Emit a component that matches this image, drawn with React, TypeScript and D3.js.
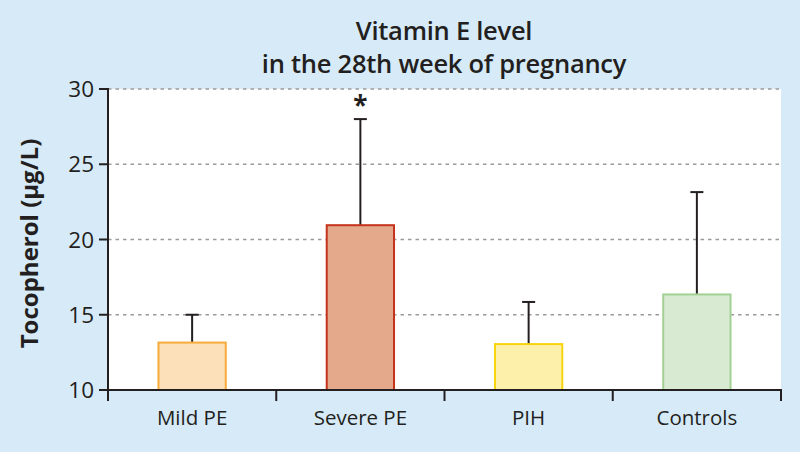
import React from 'react';
import * as d3 from 'd3';

const groups = ['Mild PE', 'Severe PE', 'PIH', 'Controls'];
const means = [13.15, 20.95, 13.05, 16.35];
const sdTops = [15.0, 28.0, 15.85, 23.15];
const significant = [false, true, false, false];
const fills = ['#fce0b9', '#e4a98b', '#fdf0aa', '#d9ead3'];
const strokes = ['#f7ab3a', '#c4331c', '#f7d40c', '#a3d193'];
const yTicks = [10, 15, 20, 25, 30];
const gridTicks = [15, 20, 25, 30];

const W = 800;
const H = 452;
const left = 108;
const right = 781;
const top = 89;
const bottom = 390;

const App = () => {
  const x = d3.scaleBand<string>().domain(groups).range([left, right]).padding(0);
  const y = d3.scaleLinear().domain([10, 30]).range([bottom, top]);
  const barW = x.bandwidth() * 0.4;
  const font = "'Open Sans', 'DejaVu Sans', sans-serif";
  const ink = '#231f20';

  return (
    <svg width={W} height={H} style={{ position: 'absolute', left: 0, top: 0 }} fontFamily={font}>
      <rect x={0} y={0} width={W} height={H} fill="#d6eaf8" />
      <rect x={left} y={top} width={right - left} height={bottom - top} fill="#ffffff" />

      {/* title */}
      <text x={444} y={40} textAnchor="middle" fontSize={25.5} fontWeight={600} fill={ink} letterSpacing={-0.25}>
        Vitamin E level
      </text>
      <text x={444} y={73} textAnchor="middle" fontSize={25.5} fontWeight={600} fill={ink} letterSpacing={-0.25}>
        in the 28th week of pregnancy
      </text>

      {/* gridlines */}
      {gridTicks.map(t => (
        <line key={t} x1={left} x2={right} y1={y(t)} y2={y(t)} stroke="#9a9a9a" strokeWidth={1.5} strokeDasharray="3.5,4" />
      ))}

      {/* bars */}
      {groups.map((g, i) => {
        const cx = (x(g) as number) + x.bandwidth() / 2;
        return (
          <g key={g}>
            <line x1={cx} x2={cx} y1={y(means[i])} y2={y(sdTops[i])} stroke={ink} strokeWidth={2} />
            <line x1={cx - 6.5} x2={cx + 6.5} y1={y(sdTops[i])} y2={y(sdTops[i])} stroke={ink} strokeWidth={2} />
            <rect x={cx - barW / 2} y={y(means[i])} width={barW} height={bottom - y(means[i])}
              fill={fills[i]} stroke={strokes[i]} strokeWidth={2} />
            {significant[i] && (
              <text x={cx} y={y(sdTops[i]) - 4} textAnchor="middle" fontSize={26} fontWeight={700} fill={ink}>*</text>
            )}
            <text x={cx} y={425} textAnchor="middle" fontSize={20.5} fill={ink}>{g}</text>
          </g>
        );
      })}

      {/* x axis */}
      <line x1={left} x2={right + 1} y1={bottom} y2={bottom} stroke={ink} strokeWidth={2} />
      {groups.map(g => (
        <line key={g} x1={x(g)} x2={x(g)} y1={bottom} y2={401} stroke={ink} strokeWidth={2} />
      ))}
      <line x1={right} x2={right} y1={bottom} y2={401} stroke={ink} strokeWidth={2} />

      {/* y axis */}
      <line x1={left} x2={left} y1={top - 1} y2={401} stroke={ink} strokeWidth={2} />
      {yTicks.map(t => (
        <g key={t}>
          <line x1={left - 9} x2={left} y1={y(t)} y2={y(t)} stroke={ink} strokeWidth={2} />
          <text x={left - 14} y={y(t) + 8} textAnchor="end" fontSize={22.5} fill={ink}>{t}</text>
        </g>
      ))}
      <text transform={`translate(38,${(top + bottom) / 2 + 4}) rotate(-90)`} textAnchor="middle" fontSize={24} fontWeight={700} fill={ink}>
        Tocopherol (µg/L)
      </text>
    </svg>
  );
};

export default App;
